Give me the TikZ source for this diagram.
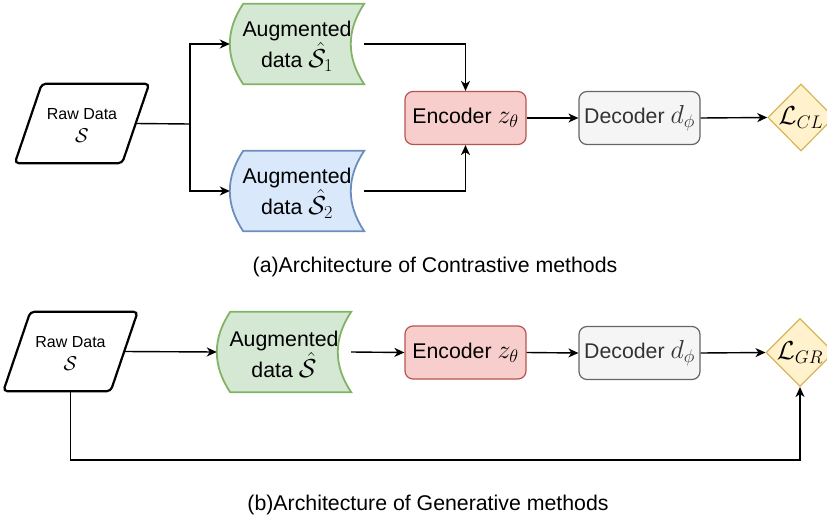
\RequirePackage{fix-cm}
\documentclass[tikz,border=0pt]{standalone}
\usepackage{fontspec}
\setmainfont{Liberation Sans}
\usetikzlibrary{shapes.geometric,arrows.meta,calc,backgrounds}
\definecolor{encfill}{HTML}{F8CECC}
\definecolor{encdraw}{HTML}{B85450}
\definecolor{decfill}{HTML}{F5F5F5}
\definecolor{decdraw}{HTML}{666666}
\definecolor{dectext}{HTML}{333333}
\definecolor{grfill}{HTML}{D5E8D4}
\definecolor{grdraw}{HTML}{82B366}
\definecolor{blfill}{HTML}{DAE8FC}
\definecolor{bldraw}{HTML}{6C8EBF}
\definecolor{lossfill}{HTML}{FFF2CC}
\definecolor{lossdraw}{HTML}{D6B656}
\newcommand\mth[1]{{\fontsize{26}{26}\selectfont$#1$}}
\newcommand\storeshape[3]{%
  \draw[fill=#2, draw=#3, line width=1.8pt]
    ($(#1.north west)+(13.4pt,0pt)$) -- (#1.north east)
    .. controls ($(#1.north east)+(-17.9pt,-26.7pt)$) and ($(#1.south east)+(-17.9pt,26.7pt)$) .. (#1.south east)
    -- ($(#1.south west)+(13.4pt,0pt)$)
    .. controls ($(#1.south west)+(-4.47pt,26.7pt)$) and ($(#1.north west)+(-4.47pt,-26.7pt)$) .. cycle;}
\newcommand\paragram[1]{%
  \draw[line width=2.2pt, rounded corners=4pt, fill=white]
    ($(#1.north west)+(13.5pt,0pt)$) -- ($(#1.north east)+(13.5pt,0pt)$)
    -- ($(#1.south east)+(-13.5pt,0pt)$) -- ($(#1.south west)+(-13.5pt,0pt)$) -- cycle;}
\tikzset{
  every node/.style={font=\fontsize{21.3}{26}\selectfont},
  rawbox/.style={minimum width=107pt, minimum height=79pt, inner sep=0pt},
  rawtext/.style={inner sep=0pt, align=center, font=\fontsize{16}{23}\selectfont},
  augbox/.style={minimum width=134pt, minimum height=80pt, inner sep=0pt},
  augtext/.style={inner sep=0pt, align=center, font=\fontsize{21.3}{31}\selectfont},
  encbox/.style={draw=encdraw, fill=encfill, line width=1.2pt, rounded corners=8pt,
                 minimum width=121pt, minimum height=53pt, inner sep=0pt},
  decbox/.style={draw=decdraw, fill=decfill, text=dectext, line width=1.2pt, rounded corners=8pt,
                 minimum width=121pt, minimum height=53pt, inner sep=0pt},
  lossbox/.style={diamond, draw=lossdraw, fill=lossfill, line width=1.2pt,
                 minimum width=66pt, minimum height=67pt, inner sep=0pt},
  arr/.style={line width=1.4pt, -{Stealth[length=10pt,width=9pt,inset=3pt]}},
  plain/.style={line width=1.4pt},
  caption/.style={font=\fontsize{21.3}{26}\selectfont}
}
\begin{document}
\begin{tikzpicture}[x=1pt,y=-1pt]
\useasboundingbox (0,0) rectangle (827,522);
% ---------- (a) contrastive ----------
\node[rawbox] (raw1) at (82,123.5) {};
\node[rawtext] (raw1t) at (82,125) {Raw Data\\ {\fontsize{20}{20}\selectfont$\mathcal{S}$}};
\node[augbox] (aug1) at (297,44) {};
\node[augtext] (aug1t) at (297,46) {Augmented\\data \mth{\hat{\mathcal{S}}_1}};
\node[augbox] (aug2) at (297,191) {};
\node[augtext] (aug2t) at (297,193) {Augmented\\data \mth{\hat{\mathcal{S}}_2}};
\node[encbox] (enc1) at (465.5,118) {Encoder \mth{z_\theta}};
\node[decbox] (dec1) at (639.5,118) {Decoder \mth{d_\phi}};
\node[lossbox] (loss1) at (801,117.5) {\mth{\mathcal{L}_{CL}}};
\node[caption] (capa) at (435,267) {(a)Architecture of Contrastive methods};
\coordinate (split) at (190,124);
\begin{scope}[on background layer]
  \paragram{raw1}
  \storeshape{aug1}{grfill}{grdraw}
  \storeshape{aug2}{blfill}{bldraw}
\end{scope}
\draw[plain] (raw1.east) -- (split);
\draw[arr] (split) |- (aug1.west);
\draw[arr] (split) |- (aug2.west);
\draw[arr] (aug1.east) -| (enc1.north);
\draw[arr] (aug2.east) -| (enc1.south);
\draw[arr] (enc1.east) -- (dec1.west);
\draw[arr] (dec1.east) -- (loss1.west);
% ---------- (b) generative ----------
\node[rawbox] (raw2) at (70.5,351.5) {};
\node[rawtext] (raw2t) at (70.5,353) {Raw Data\\ {\fontsize{20}{20}\selectfont$\mathcal{S}$}};
\node[augbox] (aug3) at (284,352) {};
\node[augtext] (aug3t) at (284,354) {Augmented\\data \mth{\hat{\mathcal{S}}}};
\node[encbox] (enc2) at (465.5,352.5) {Encoder \mth{z_\theta}};
\node[decbox] (dec2) at (639.5,353) {Decoder \mth{d_\phi}};
\node[lossbox] (loss2) at (800,352.5) {\mth{\mathcal{L}_{GR}}};
\node[caption] (capb) at (428,505) {(b)Architecture of Generative methods};
\coordinate (fb) at (70.5,460);
\begin{scope}[on background layer]
  \paragram{raw2}
  \storeshape{aug3}{grfill}{grdraw}
\end{scope}
\draw[arr] (raw2.east) -- (aug3.west);
\draw[arr] (aug3.east) -- (enc2.west);
\draw[arr] (enc2.east) -- (dec2.west);
\draw[arr] (dec2.east) -- (loss2.west);
\draw[arr] (raw2.south) -- (fb) -| (loss2.south);
\end{tikzpicture}
\end{document}
